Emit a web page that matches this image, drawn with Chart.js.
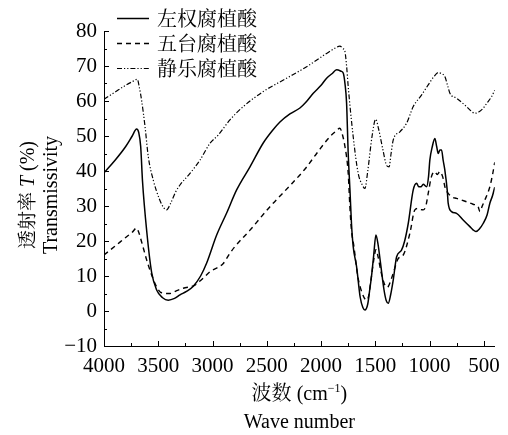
<!DOCTYPE html>
<html>
<head>
<meta charset="utf-8">
<script src="https://cdn.jsdelivr.net/npm/chart.js@4.4.1/dist/chart.umd.min.js"></script>
<style>
  html, body { margin: 0; padding: 0; background: #fff; }
  #wrap { width: 508px; height: 435px; }
</style>
</head>
<body>
<div id="wrap"><canvas id="irChart" width="508" height="435"></canvas></div>
<script>
// FTIR spectra of three humic acids (wave number in cm-1, transmissivity in %)
const seriesNames = ['左权腐植酸', '五台腐植酸', '静乐腐植酸'];

const zuoquanWave = [4000, 3900, 3800, 3740, 3700, 3680, 3662, 3645, 3607, 3561, 3515, 3460, 3408, 3350, 3300, 3240, 3177, 3110, 3054, 2962, 2870, 2778, 2655, 2533, 2450, 2379, 2287, 2195, 2130, 2072, 2000, 1949, 1900, 1857, 1815, 1796, 1780, 1765, 1750, 1734, 1720, 1704, 1673, 1640, 1615, 1596, 1570, 1550, 1535, 1515, 1495, 1475, 1452, 1420, 1400, 1381, 1360, 1335, 1304, 1259, 1230, 1197, 1151, 1120, 1100, 1080, 1059, 1028, 1010, 998, 975, 952, 935, 921, 905, 890, 875, 860, 838, 829, 798, 752, 691, 629, 600, 574, 540, 507, 470, 445, 420, 400];
const zuoquanT = [39.5, 43, 47, 50, 52, 51, 47, 37, 23, 11, 6, 3.8, 3.1, 3.6, 4.6, 5.6, 7.1, 10, 13.7, 21.7, 28, 34.6, 41.2, 48, 51.5, 54, 56.3, 58, 60, 62.2, 64.5, 66.5, 67.8, 68.9, 68.5, 68, 65, 59.4, 45, 34.6, 25, 18.4, 12.7, 4, 1, 0.3, 2, 6.5, 10, 16, 21.7, 19, 13.6, 6, 3, 2.2, 4.5, 8.9, 15.5, 17.4, 20, 25, 34.6, 36.5, 35.5, 35.5, 36.2, 35.5, 38.4, 43.1, 47, 49.3, 47, 45, 46, 46, 43, 40.3, 34.6, 30.8, 28.4, 27.9, 26, 24.1, 23.2, 22.7, 23.5, 25, 27.5, 30.8, 33, 35.4];

const wutaiWave = [4000, 3900, 3800, 3740, 3700, 3680, 3654, 3607, 3561, 3515, 3469, 3392, 3330, 3270, 3162, 3100, 3024, 2901, 2840, 2794, 2655, 2471, 2272, 2150, 2041, 1919, 1870, 1827, 1800, 1780, 1750, 1735, 1720, 1700, 1661, 1620, 1581, 1560, 1540, 1515, 1495, 1475, 1450, 1420, 1395, 1381, 1360, 1335, 1289, 1243, 1182, 1136, 1105, 1080, 1059, 1035, 1013, 983, 952, 930, 906, 880, 855, 829, 790, 752, 660, 600, 553, 537, 515, 491, 445, 420, 400];
const wutaiT = [16, 18.5, 21, 22.5, 23.7, 22.5, 19.8, 14.6, 10.3, 6.9, 5.2, 5, 5.8, 6.5, 7.4, 9, 11.2, 13.6, 16.5, 18.4, 23.1, 29.8, 36.3, 40.5, 45, 49.8, 51.2, 52.2, 50, 47, 39.3, 30, 23, 19, 9.8, 5, 3.1, 4.5, 9, 14.5, 17.5, 15.5, 11.5, 8, 6.8, 7, 8.5, 10.8, 15, 16, 22.2, 28.9, 29.3, 29, 28.9, 30, 33.6, 38.4, 39.8, 39, 39.8, 38.4, 35, 33.6, 32.5, 32.2, 31.2, 30.5, 29.8, 28.4, 30, 31.7, 35.5, 39, 42.5];

const jingleWave = [4000, 3900, 3800, 3740, 3693, 3675, 3654, 3622, 3592, 3546, 3490, 3450, 3423, 3390, 3340, 3300, 3208, 3116, 3024, 2947, 2840, 2717, 2533, 2318, 2133, 1949, 1860, 1827, 1800, 1780, 1765, 1750, 1704, 1658, 1620, 1596, 1570, 1530, 1497, 1470, 1430, 1395, 1373, 1355, 1335, 1274, 1213, 1151, 1075, 1013, 960, 921, 890, 860, 835, 813, 752, 660, 620, 583, 540, 507, 470, 430, 400];
const jingleT = [60.5, 62.5, 64.5, 65.5, 66.2, 64, 60.3, 52.7, 44.1, 37.4, 32, 29.5, 28.9, 30.5, 34, 36, 39.3, 43.1, 47.9, 50.3, 54.6, 58.4, 62.7, 66.5, 69.8, 73.6, 75.3, 75.7, 75, 74.1, 70, 64.1, 49.8, 39.3, 36, 35, 40, 50, 54.8, 52, 46, 41.5, 41.2, 45, 48.9, 51.2, 53.6, 58.4, 61.7, 64.6, 67, 68.1, 67.8, 67, 64.5, 62.2, 60.8, 58.4, 57.2, 56.5, 57, 57.9, 59.5, 61.2, 63.1];

const xTicks = [4000, 3500, 3000, 2500, 2000, 1500, 1000, 500];
const xMinorTicks = [3750, 3250, 2750, 2250, 1750, 1250, 750];
const yTicks = [-10, 0, 10, 20, 30, 40, 50, 60, 70, 80];
const yMinorTicks = [-5, 5, 15, 25, 35, 45, 55, 65, 75];

const serif = '"Liberation Serif", "Times New Roman", serif';
const cjk = '"Noto Serif CJK SC", "Noto Sans CJK SC", sans-serif';

function toPoints(xs, ys) {
    return xs.map((x, i) => ({ x: x, y: ys[i] }));
}

// inward ticks, legend and axis titles
const decorPlugin = {
    id: 'decor',
    afterDraw(chart) {
        const ctx = chart.ctx;
        const xs = chart.scales.x;
        const ys = chart.scales.y;
        const area = chart.chartArea;
        ctx.save();
        ctx.strokeStyle = '#000';
        ctx.lineWidth = 1;
        ctx.beginPath();
        xTicks.forEach(v => {
            const px = Math.round(xs.getPixelForValue(v)) + 0.5;
            ctx.moveTo(px, area.bottom);
            ctx.lineTo(px, area.bottom - 5);
        });
        xMinorTicks.forEach(v => {
            const px = Math.round(xs.getPixelForValue(v)) + 0.5;
            ctx.moveTo(px, area.bottom);
            ctx.lineTo(px, area.bottom - 3);
        });
        yTicks.forEach(v => {
            const py = Math.round(ys.getPixelForValue(v)) + 0.5;
            ctx.moveTo(area.left, py);
            ctx.lineTo(area.left + 5, py);
        });
        yMinorTicks.forEach(v => {
            const py = Math.round(ys.getPixelForValue(v)) + 0.5;
            ctx.moveTo(area.left, py);
            ctx.lineTo(area.left + 3, py);
        });
        ctx.stroke();

        // legend
        ctx.fillStyle = '#000';
        ctx.textBaseline = 'middle';
        ctx.textAlign = 'left';
        chart.data.datasets.forEach((ds, i) => {
            const y = 18 + i * 25 + 0.5;
            ctx.beginPath();
            ctx.lineWidth = ds.borderWidth;
            ctx.setLineDash(ds.borderDash || []);
            ctx.moveTo(117, y);
            ctx.lineTo(149, y);
            ctx.stroke();
            ctx.setLineDash([]);
            ctx.font = '20px ' + cjk;
            ctx.fillText(ds.label, 157, y);
        });

        // x title
        ctx.textBaseline = 'alphabetic';
        const cx = (area.left + area.right) / 2;
        const parts = [
            { t: '波数 ', f: '20px ' + cjk, dy: 0 },
            { t: '(cm', f: '20px ' + serif, dy: 0 },
            { t: '\u22121', f: '12px ' + serif, dy: -8 },
            { t: ')', f: '20px ' + serif, dy: 0 }
        ];
        let w = 0;
        parts.forEach(p => { ctx.font = p.f; p.w = ctx.measureText(p.t).width; w += p.w; });
        let x0 = cx - w / 2;
        parts.forEach(p => {
            ctx.font = p.f;
            ctx.fillText(p.t, x0, 400 + p.dy);
            x0 += p.w;
        });
        ctx.font = '20px ' + serif;
        ctx.textAlign = 'center';
        ctx.fillText('Wave number', cx, 428);

        // y title (rotated)
        ctx.translate(0, 195);
        ctx.rotate(-Math.PI / 2);
        ctx.textAlign = 'left';
        const yparts = [
            { t: '透射率 ', f: '19px ' + cjk },
            { t: 'T', f: 'italic 20px ' + serif },
            { t: ' (%)', f: '20px ' + serif }
        ];
        w = 0;
        yparts.forEach(p => { ctx.font = p.f; p.w = ctx.measureText(p.t).width; w += p.w; });
        x0 = -w / 2;
        yparts.forEach(p => {
            ctx.font = p.f;
            ctx.fillText(p.t, x0, 34);
            x0 += p.w;
        });
        ctx.font = '20px ' + serif;
        ctx.textAlign = 'center';
        ctx.fillText('Transmissivity', 0, 57);
        ctx.restore();
    }
};

document.addEventListener('DOMContentLoaded', function() {
    const ctx = document.getElementById('irChart');
    new Chart(ctx, {
        type: 'line',
        data: {
            datasets: [
                {
                    label: seriesNames[0],
                    data: toPoints(zuoquanWave, zuoquanT),
                    borderColor: '#000',
                    borderWidth: 1.5,
                    pointRadius: 0,
                    cubicInterpolationMode: 'monotone'
                },
                {
                    label: seriesNames[1],
                    data: toPoints(wutaiWave, wutaiT),
                    borderColor: '#000',
                    borderWidth: 1.4,
                    borderDash: [5, 4],
                    pointRadius: 0,
                    cubicInterpolationMode: 'monotone'
                },
                {
                    label: seriesNames[2],
                    data: toPoints(jingleWave, jingleT),
                    borderColor: '#000',
                    borderWidth: 1.2,
                    borderDash: [5, 2, 1.2, 2, 1.2, 2],
                    pointRadius: 0,
                    cubicInterpolationMode: 'monotone'
                }
            ]
        },
        options: {
            responsive: false,
            animation: false,
            layout: {
                padding: { top: 31, right: 13, left: 0, bottom: 0 }
            },
            plugins: {
                legend: { display: false },
                tooltip: { enabled: false }
            },
            scales: {
                x: {
                    type: 'linear',
                    reverse: true,
                    min: 400,
                    max: 4000,
                    afterBuildTicks: function(scale) {
                        scale.ticks = xTicks.map(v => ({ value: v }));
                    },
                    afterFit: function(scale) { scale.height = 89; },
                    grid: { display: false, drawTicks: false },
                    border: { display: true, color: '#000', width: 1 },
                    ticks: {
                        padding: 8,
                        color: '#000',
                        maxRotation: 0,
                        autoSkip: false,
                        font: { family: serif, size: 21 },
                        callback: function(v) { return String(v); }
                    }
                },
                y: {
                    min: -10,
                    max: 80,
                    afterBuildTicks: function(scale) {
                        scale.ticks = yTicks.map(v => ({ value: v }));
                    },
                    afterFit: function(scale) { scale.width = 104; },
                    grid: { display: false, drawTicks: false },
                    border: { display: true, color: '#000', width: 1 },
                    ticks: {
                        padding: 7,
                        color: '#000',
                        autoSkip: false,
                        font: { family: serif, size: 21 },
                        callback: function(v) { return String(v).replace('-', '\u2212'); }
                    }
                }
            }
        },
        plugins: [decorPlugin]
    });
});
</script>
</body>
</html>
